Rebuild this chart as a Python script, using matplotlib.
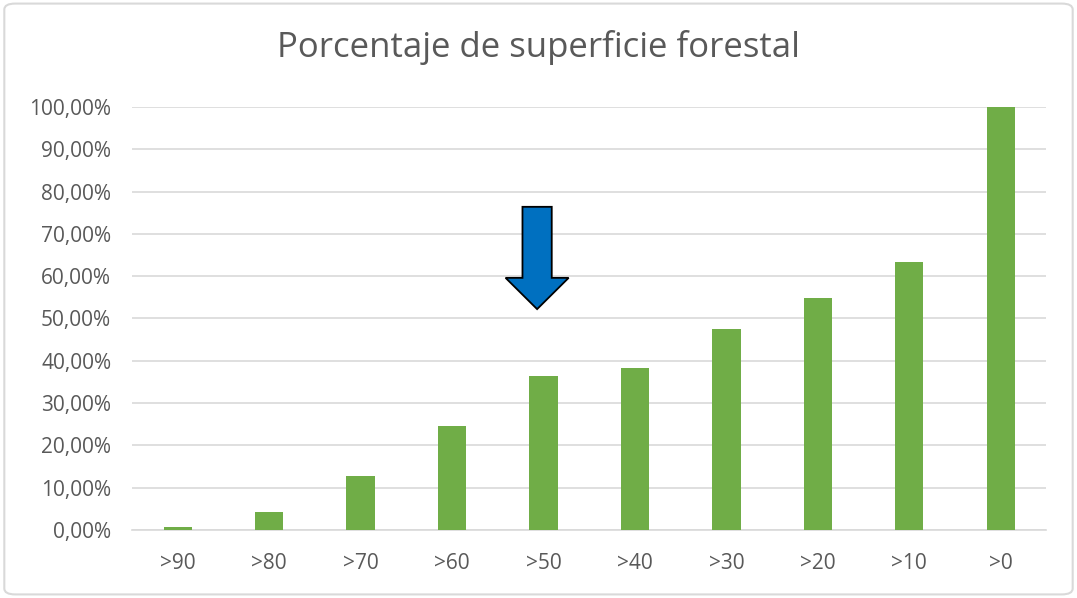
import matplotlib
matplotlib.use("Agg")
import matplotlib.pyplot as plt
from matplotlib.patches import FancyArrow, FancyBboxPatch
from matplotlib.ticker import FuncFormatter

# data
categories = [">90", ">80", ">70", ">60", ">50", ">40", ">30", ">20", ">10", ">0"]
values = [0.7, 4.3, 12.8, 24.6, 36.4, 38.3, 47.5, 54.8, 63.4, 100.0]

# arrow marking the >50 column (x in category units, y in %)
arrow_x = 3.93
arrow_top = 76.4
arrow_tip = 52.2
arrow_head = 7.4

plt.rcParams["font.family"] = ["Open Sans", "DejaVu Sans"]
text_color = "#595959"
grid_color = "#D9D9D9"


def pct(v, _):
    return f"{v:.2f}%".replace(".", ",")


def main():
    fig = plt.figure(figsize=(10.77, 5.98), dpi=100)
    ax = fig.add_axes([0.1226, 0.114, 0.849, 0.707])

    x = list(range(len(categories)))
    ax.bar(x, values, width=0.31, color="#70AD47", zorder=3)

    ax.set_xlim(-0.5, len(categories) - 0.5)
    ax.set_ylim(0, 100)
    ax.set_yticks(range(0, 101, 10))
    ax.yaxis.set_major_formatter(FuncFormatter(pct))
    ax.set_xticks(x)
    ax.set_xticklabels(categories)
    ax.tick_params(length=0, labelsize=15, colors=text_color)
    ax.tick_params(axis="y", pad=15)
    ax.tick_params(axis="x", pad=17)
    ax.grid(axis="y", color=grid_color, linewidth=1.2, zorder=0)
    for side in ["top", "right", "left"]:
        ax.spines[side].set_visible(False)
    ax.spines["bottom"].set_color(grid_color)
    ax.spines["bottom"].set_linewidth(1.2)

    arrow = FancyArrow(arrow_x, arrow_top, 0, arrow_tip - arrow_top,
                       width=0.32, head_width=0.69, head_length=arrow_head,
                       length_includes_head=True, facecolor="#0070C0",
                       edgecolor="black", linewidth=1.3, zorder=5)
    ax.add_patch(arrow)

    fig.text(0.5, 0.921, "Porcentaje de superficie forestal", ha="center",
             va="center", fontsize=25, color=text_color)

    border = FancyBboxPatch((0.004, 0.006), 0.992, 0.988,
                            boxstyle="round,pad=0,rounding_size=0.01",
                            transform=fig.transFigure, facecolor="none",
                            edgecolor="#D9D9D9", linewidth=1.5)
    fig.patches.append(border)

    fig.savefig("out.png", dpi=100)


if __name__ == "__main__":
    main()
